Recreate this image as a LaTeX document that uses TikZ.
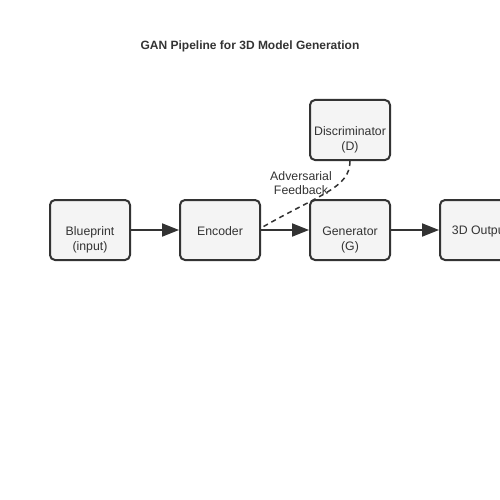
\documentclass[tikz,border=0pt]{standalone}
\usepackage{fontspec}
\setmainfont{Liberation Sans}
\usepackage{tikz}
\usepackage{xcolor}
\usetikzlibrary{arrows.meta,positioning,calc}

\definecolor{ink}{HTML}{333333}
\definecolor{boxfill}{HTML}{F4F4F4}

\begin{document}
\begin{tikzpicture}[
    x=1pt, y=-1pt,
    box/.style={draw=ink, fill=boxfill, line width=2pt, minimum width=80pt, minimum height=60pt, rounded corners=5pt, inner sep=0pt},
    txt/.style={text=ink, align=center, font=\fontsize{12.3pt}{15pt}\selectfont},
    arrow/.style={-{Triangle[length=17pt, width=13pt]}, line width=2pt, draw=ink},
    feedback/.style={draw=ink, line width=1.5pt, dash pattern=on 5pt off 4pt}
]
    \useasboundingbox (0,0) rectangle (500,500);
    \clip (0,0) rectangle (500,500);

    % Title
    \node[txt, font=\fontsize{12pt}{15pt}\selectfont\bfseries] (title) at (250,46) {GAN Pipeline for 3D Model Generation};

    % Pipeline stages
    \node[box] (blueprint) at (90,230) {};
    \node[box] (encoder) at (220,230) {};
    \node[box] (generator) at (350,230) {};
    \node[box] (output) at (480,230) {};
    \node[box] (discriminator) at (350,130) {};

    % Stage texts
    \node[txt] (blueprint-txt) at ([yshift=-9.5pt]blueprint.center) {Blueprint\\(input)};
    \node[txt] (encoder-txt) at ([yshift=-1.5pt]encoder.center) {Encoder};
    \node[txt] (generator-txt) at ([yshift=-9.5pt]generator.center) {Generator\\(G)};
    \node[txt] (output-txt) at ([yshift=-1.5pt]output.center) {3D Output};
    \node[txt] (discriminator-txt) at ([yshift=-9.5pt]discriminator.center) {Discriminator\\(D)};

    % Forward arrows
    \draw[arrow] (blueprint.east) -- (encoder.west);
    \draw[arrow] (encoder.east) -- (generator.west);
    \draw[arrow] (generator.east) -- (output.west);

    % Adversarial feedback
    \node[txt, font=\fontsize{12.3pt}{14pt}\selectfont] (feedback-txt) at (301,183) {Adversarial\\Feedback};
    \draw[feedback] (discriminator.south) .. controls (350,188) and (320,194) .. ([yshift=2pt]encoder.east);
\end{tikzpicture}
\end{document}
